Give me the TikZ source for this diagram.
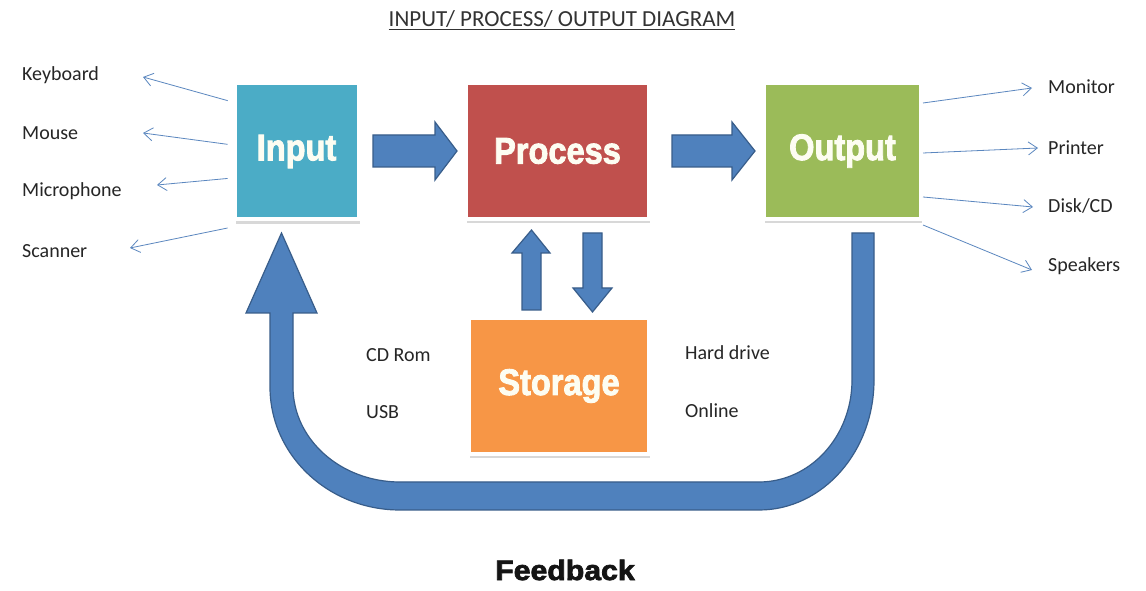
\documentclass[tikz,border=0pt]{standalone}
\usepackage{fontspec}
\setmainfont{Carlito}
\newfontfamily\boxfont[BoldFeatures={FakeBold=2.5}]{Liberation Sans}
\usetikzlibrary{arrows.meta,shadows}
\definecolor{cin}{HTML}{4BACC6}
\definecolor{cpro}{HTML}{C0504D}
\definecolor{cout}{HTML}{9BBB59}
\definecolor{csto}{HTML}{F79646}
\definecolor{afill}{HTML}{4F81BD}
\definecolor{aline}{HTML}{385D8A}
\definecolor{thinc}{HTML}{5B87BF}
\definecolor{btext}{HTML}{FDFDF2}
\tikzset{
  ipobox/.style={rectangle, draw=white, line width=4pt, minimum height=136pt,
    drop shadow={shadow xshift=1pt, shadow yshift=-4.5pt, opacity=.3},
    text=btext, font=\boxfont\bfseries\fontsize{37}{40}\selectfont, inner sep=0pt},
  lbl/.style={anchor=west, font=\fontsize{20}{24}\selectfont, text=black!85, inner sep=0pt},
  thinarrow/.style={draw=thinc, line width=0.8pt, -{Straight Barb[length=9pt,width=13pt]}},
  blockarrow/.style={fill=afill, draw=aline, line width=1.2pt, line join=miter},
}
\begin{document}
\begin{tikzpicture}[x=1pt,y=1pt]
\useasboundingbox (0,0) rectangle (1146,591);
\fill[white] (0,0) rectangle (1146,591);

% feedback U arrow
\path[blockarrow] (852,358) -- (874,358) -- (874,211)
  arc[start angle=0,end angle=-90,x radius=115,y radius=130]
  -- (400,81)
  arc[start angle=270,end angle=180,x radius=130,y radius=123]
  -- (270,278) -- (246,278) -- (281.5,358) -- (317,278) -- (293,278) -- (293,204)
  arc[start angle=180,end angle=270,x radius=107,y radius=95]
  -- (759,109)
  arc[start angle=270,end angle=360,x radius=93,y radius=102]
  -- cycle;

% boxes
\node[ipobox, fill=cin, minimum width=124pt] (inp) at (296.5,439.5) {\scalebox{0.88}[1]{Input}};
\node[ipobox, fill=cpro, minimum width=183pt] (pro) at (557.5,440) {\scalebox{0.88}[1]{Process}};
\node[ipobox, fill=cout, minimum width=157pt] (out) at (842.5,440) {\scalebox{0.88}[1]{Output}};
\node[ipobox, fill=csto, minimum width=180pt] (sto) at (559,205) {\scalebox{0.88}[1]{Storage}};

% block arrows
\path[blockarrow] (373,424) -- (435,424) -- (435,411) -- (457,440) -- (435,469) -- (435,456) -- (373,456) -- cycle;
\path[blockarrow] (672,424) -- (732,424) -- (732,411) -- (755,440) -- (732,469) -- (732,456) -- (672,456) -- cycle;
\path[blockarrow] (522,281) -- (522,338) -- (512,338) -- (531.5,361) -- (550,338) -- (541,338) -- (541,281) -- cycle;
\path[blockarrow] (583,358) -- (583,303) -- (573,303) -- (592.5,279) -- (612,303) -- (602,303) -- (602,358) -- cycle;

% title
\node[font=\fontsize{23}{27}\selectfont, text=black!80, inner sep=0pt] (title) at (562,571) {\underline{INPUT/ PROCESS/ OUTPUT DIAGRAM}};

% input labels
\node[lbl] (kb) at (22,516) {Keyboard};
\node[lbl] (ms) at (22,458) {Mouse};
\node[lbl] (mic) at (22,400) {Microphone};
\node[lbl] (sc) at (22,340) {Scanner};
\coordinate (kbE) at (143,514);
\coordinate (msE) at (143,458);
\coordinate (micE) at (157,406);
\coordinate (scE) at (130,343);
\draw[thinarrow, shorten <=5pt] (inp.west |- 0,489) -- (kbE);
\draw[thinarrow, shorten <=5pt] (inp.west |- 0,446) -- (msE);
\draw[thinarrow, shorten <=5pt] (inp.west |- 0,413) -- (micE);
\draw[thinarrow, shorten <=5pt] (inp.west |- 0,364) -- (scE);

% output labels
\node[lbl] (mon) at (1048,504) {Monitor};
\node[lbl] (prn) at (1048,443) {Printer};
\node[lbl] (dsk) at (1048,385) {Disk/CD};
\node[lbl] (spk) at (1048,325) {Speakers};
\coordinate (monE) at (1032,503);
\coordinate (prnE) at (1038,443);
\coordinate (dskE) at (1033,384);
\coordinate (spkE) at (1032,321);
\draw[thinarrow] (out.east |- 0,488) -- (monE);
\draw[thinarrow] (out.east |- 0,438) -- (prnE);
\draw[thinarrow] (out.east |- 0,394) -- (dskE);
\draw[thinarrow] (out.east |- 0,366) -- (spkE);

% storage labels
\node[lbl] (cdr) at (366,236) {CD Rom};
\node[lbl] (usb) at (366,179) {USB};
\node[lbl] (hdd) at (685,238) {Hard drive};
\node[lbl] (onl) at (685,180) {Online};

% feedback
\node[font=\boxfont\bfseries\fontsize{28}{32}\selectfont, text=black!92, inner sep=0pt] (fb) at (565,21) {\scalebox{1.08}[1]{Feedback}};
\end{tikzpicture}
\end{document}
